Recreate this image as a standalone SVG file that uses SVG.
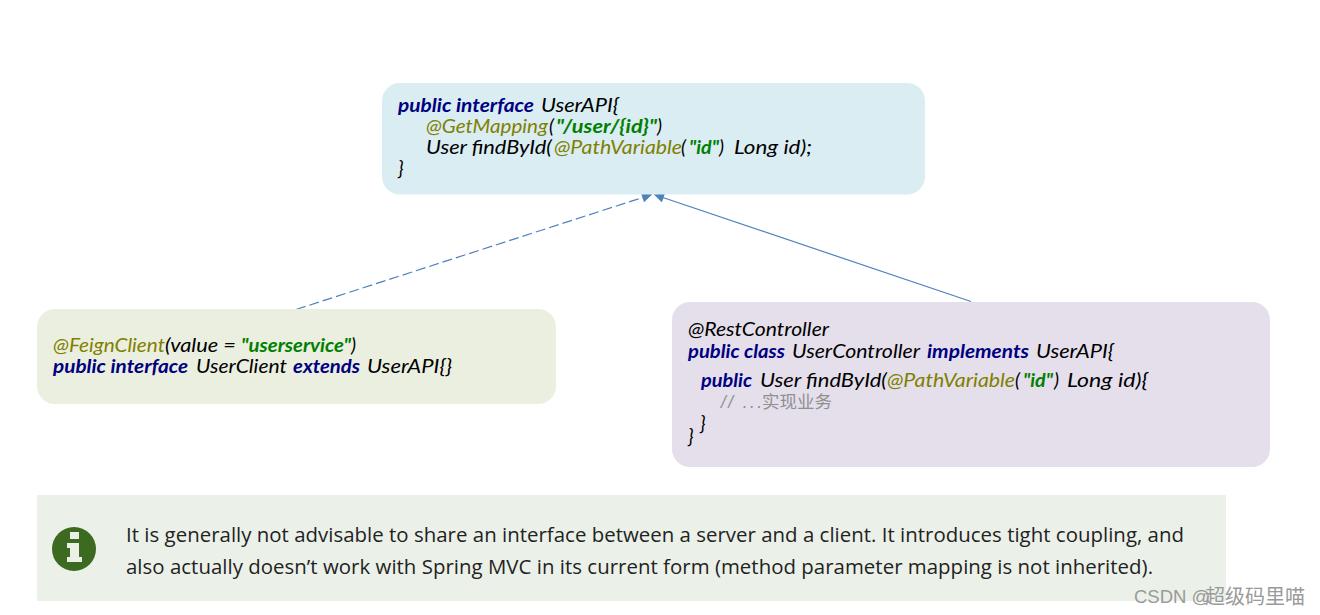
<svg xmlns="http://www.w3.org/2000/svg" width="1320" height="615" viewBox="0 0 1320 615">
<style>
text{white-space:pre}
.c{font-family:"Lato","Noto Sans","Noto Sans CJK SC",sans-serif;font-style:italic;font-size:19.5px;fill:#000}
.k{font-weight:700;fill:#000080}
.a{fill:#808000}
.s{font-weight:700;fill:#008000}
.m{font-family:"Liberation Sans","Noto Sans CJK SC",sans-serif;font-size:17.5px;fill:#8f8f8f}
.z{font-family:"Noto Sans CJK SC",sans-serif;font-style:normal;font-size:17.5px;fill:#8f8f8f}
.n{font-family:"Open Sans","Noto Sans",sans-serif;font-size:20.4px;fill:#222}
.w{font-family:"Liberation Sans",sans-serif;font-size:18.5px;fill:#9a9a9a}
.y{font-family:"Noto Sans CJK SC",sans-serif;font-size:20px;fill:#9a9a9a}
.l{fill:none;stroke:#4f81bd;stroke-width:1.2}
</style>
<defs>
<marker id="ah" viewBox="0 0 10 10" refX="10" refY="5" markerWidth="11" markerHeight="10" markerUnits="userSpaceOnUse" orient="auto"><path d="M0 0L10 5L0 10z" fill="#4f81bd"/></marker>
</defs>
<rect width="1320" height="615" fill="#fff"/>
<g id="connectors">
<path class="l" d="M296 309.500L652 194.500" stroke-dasharray="10 4" marker-end="url(#ah)"/>
<path class="l" d="M971 301.500L654 194.500" marker-end="url(#ah)"/>
</g>
<g id="node-userapi">
<rect x="382" y="83" width="543" height="111.500" rx="18" fill="#daedf3"/>
<text class="c k" x="398" y="112" textLength="136" lengthAdjust="spacingAndGlyphs">public interface</text>
<text class="c" x="541" y="112" textLength="78" lengthAdjust="spacingAndGlyphs">UserAPI{</text>
<text class="c a" x="426" y="133" textLength="122" lengthAdjust="spacingAndGlyphs">@GetMapping</text>
<text class="c" x="549" y="133">(</text>
<text class="c s" x="556" y="133" textLength="101" lengthAdjust="spacingAndGlyphs">"/user/{id}"</text>
<text class="c" x="657" y="133">)</text>
<text class="c" x="426" y="154" textLength="126" lengthAdjust="spacingAndGlyphs">User findById(</text>
<text class="c a" x="554" y="154" textLength="128" lengthAdjust="spacingAndGlyphs">@PathVariable</text>
<text class="c" x="681" y="154">(</text>
<text class="c s" x="689" y="154" textLength="30" lengthAdjust="spacingAndGlyphs">"id"</text>
<text class="c" x="719" y="154">)</text>
<text class="c" x="734" y="154" textLength="78" lengthAdjust="spacingAndGlyphs">Long id);</text>
<text class="c" x="398" y="175">}</text>
</g>
<g id="node-userclient">
<rect x="37" y="309" width="519" height="95" rx="18" fill="#ebefdf"/>
<text class="c a" x="53" y="352" textLength="112" lengthAdjust="spacingAndGlyphs">@FeignClient</text>
<text class="c" x="165" y="352" textLength="76" lengthAdjust="spacingAndGlyphs">(value = </text>
<text class="c s" x="241" y="352" textLength="110" lengthAdjust="spacingAndGlyphs">"userservice"</text>
<text class="c" x="351" y="352">)</text>
<text class="c k" x="53" y="373" textLength="135" lengthAdjust="spacingAndGlyphs">public interface</text>
<text class="c" x="196" y="373" textLength="91" lengthAdjust="spacingAndGlyphs">UserClient</text>
<text class="c k" x="293" y="373" textLength="67" lengthAdjust="spacingAndGlyphs">extends</text>
<text class="c" x="367" y="373" textLength="85" lengthAdjust="spacingAndGlyphs">UserAPI{}</text>
</g>
<g id="node-usercontroller">
<rect x="672" y="302" width="598" height="165" rx="18" fill="#e5dfec"/>
<text class="c" x="688" y="336" textLength="141" lengthAdjust="spacingAndGlyphs">@RestController</text>
<text class="c k" x="688" y="358" textLength="97" lengthAdjust="spacingAndGlyphs">public class</text>
<text class="c" x="792" y="358" textLength="128" lengthAdjust="spacingAndGlyphs">UserController</text>
<text class="c k" x="927" y="358" textLength="102" lengthAdjust="spacingAndGlyphs">implements</text>
<text class="c" x="1036" y="358" textLength="78" lengthAdjust="spacingAndGlyphs">UserAPI{</text>
<text class="c k" x="701" y="387" textLength="51" lengthAdjust="spacingAndGlyphs">public</text>
<text class="c" x="760" y="387" textLength="127" lengthAdjust="spacingAndGlyphs">User findById(</text>
<text class="c a" x="887" y="387" textLength="128" lengthAdjust="spacingAndGlyphs">@PathVariable</text>
<text class="c" x="1015" y="387">(</text>
<text class="c s" x="1023" y="387" textLength="30" lengthAdjust="spacingAndGlyphs">"id"</text>
<text class="c" x="1054" y="387">)</text>
<text class="c" x="1067" y="387" textLength="81" lengthAdjust="spacingAndGlyphs">Long id){</text>
<text class="c m" x="721" y="408" textLength="41" lengthAdjust="spacing">// ...</text>
<text class="z" x="762" y="408" textLength="70" lengthAdjust="spacingAndGlyphs">实现业务</text>
<text class="c" x="700" y="430">}</text>
<text class="c" x="688" y="443">}</text>
</g>
<g id="note">
<rect x="37" y="495" width="1189" height="106" fill="#ebf1e8"/>
<circle cx="74" cy="549" r="22" fill="#3d6a21"/>
<path d="M70 532h9v7h-9zM67 543h12v14h3v5h-15v-5h3v-9h-3z" fill="#ebf1e8"/>
<text class="n" x="126" y="542" textLength="1058" lengthAdjust="spacing">It is generally not advisable to share an interface between a server and a client. It introduces tight coupling, and</text>
<text class="n" x="126" y="574" textLength="1027" lengthAdjust="spacing">also actually doesn’t work with Spring MVC in its current form (method parameter mapping is not inherited).</text>
</g>
<g id="watermark">
<text class="w" x="1134" y="603">CSDN @</text>
<text class="y" x="1205" y="604" textLength="100" lengthAdjust="spacingAndGlyphs">超级码里喵</text>
</g>
</svg>
